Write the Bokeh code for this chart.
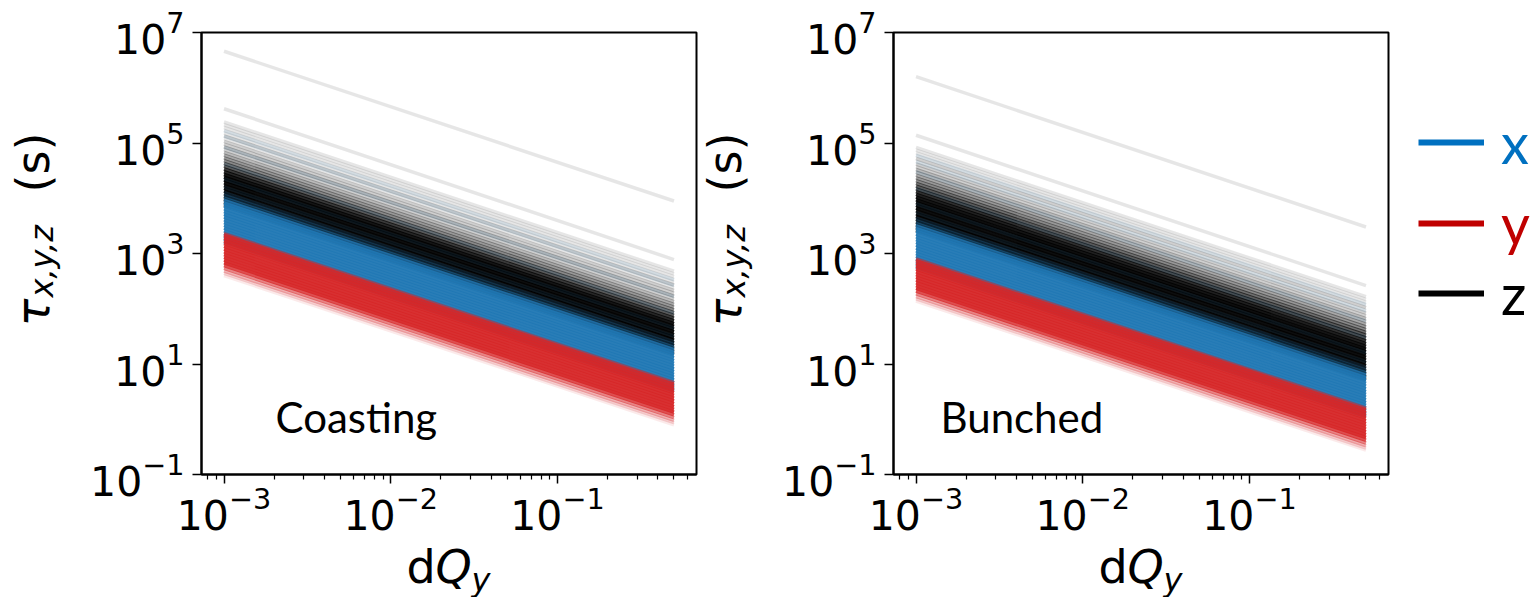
from bokeh.plotting import figure
from bokeh.layouts import row, column
from bokeh.models import (ColumnDataSource, Range1d, FixedTicker, Label,
                          Legend, LegendItem)
from bokeh.embed import file_html
from bokeh.resources import INLINE

# ---------------- data ----------------
# every line runs from dQ_y = 1e-3 to dQ_y = 0.5
DQ_ENDS = [1e-3, 0.5]

# log10(tau / s) at the two ends, and number of overlapping particle lines
# ---- Coasting ----
z_coast_start = [6.66, 5.62, 5.38, 5.33, 5.28, 5.23, 5.18, 5.13, 5.08, 5.03, 4.98,
                 4.93, 4.88, 4.83, 4.78, 4.73, 4.68, 4.63, 4.58, 4.53, 4.48, 4.43,
                 4.38, 4.33, 4.28, 4.23, 4.18, 4.13, 4.08, 4.03, 3.98, 3.93, 3.88]
z_coast_end = [3.95, 2.89, 2.68, 2.63, 2.58, 2.53, 2.48, 2.43, 2.38, 2.33, 2.28,
               2.23, 2.18, 2.13, 2.08, 2.03, 1.98, 1.93, 1.88, 1.83, 1.78, 1.73,
               1.68, 1.63, 1.58, 1.53, 1.48, 1.43, 1.38, 1.33, 1.28, 1.23, 1.18]
z_coast_count = [1, 1, 1, 1, 1, 1, 1, 2, 1, 2, 2, 3, 2, 3, 4, 5, 6, 8, 10, 14,
                 18, 24, 28, 28, 28, 28, 28, 28, 28, 28, 24, 18, 12]

x_coast_start = [5.22, 5.12, 4.92, 4.62, 4.35, 4.20, 4.10, 4.05, 4.00, 3.96, 3.91,
                 3.86, 3.81, 3.76, 3.71, 3.66, 3.61, 3.56, 3.51, 3.46, 3.41, 3.36,
                 3.31, 3.26, 3.21]
x_coast_end = [2.52, 2.42, 2.22, 1.92, 1.65, 1.50, 1.40, 1.35, 1.30, 1.26, 1.21,
               1.16, 1.11, 1.06, 1.01, 0.96, 0.91, 0.86, 0.81, 0.76, 0.71, 0.66,
               0.61, 0.56, 0.51]
x_coast_count = [1, 1, 1, 1, 1, 1, 2, 3, 6, 15, 30, 30, 30, 30, 30, 30, 30, 30,
                 30, 30, 30, 30, 30, 30, 20]

y_coast_start = [3.36, 3.33, 3.28, 3.23, 3.18, 3.13, 3.08, 3.03, 2.98, 2.93, 2.88,
                 2.83, 2.78, 2.73, 2.68, 2.64, 2.60]
y_coast_end = [0.66, 0.63, 0.58, 0.53, 0.48, 0.43, 0.38, 0.33, 0.28, 0.23, 0.18,
               0.13, 0.08, 0.03, -0.02, -0.06, -0.10]
y_coast_count = [8, 20, 30, 30, 30, 30, 30, 30, 30, 30, 30, 30, 16, 8, 4, 2, 1]

# ---- Bunched ----
z_bunch_start = [6.20, 5.14, 4.92, 4.87, 4.82, 4.77, 4.72, 4.67, 4.62, 4.57, 4.52,
                 4.47, 4.42, 4.37, 4.32, 4.27, 4.22, 4.17, 4.12, 4.07, 4.02, 3.97,
                 3.92, 3.87, 3.82, 3.77, 3.72, 3.67, 3.62, 3.57, 3.52, 3.47, 3.42]
z_bunch_end = [3.48, 2.42, 2.22, 2.17, 2.12, 2.07, 2.02, 1.97, 1.92, 1.87, 1.82,
               1.77, 1.72, 1.67, 1.62, 1.57, 1.52, 1.47, 1.42, 1.37, 1.32, 1.27,
               1.22, 1.17, 1.12, 1.07, 1.02, 0.97, 0.92, 0.87, 0.82, 0.77, 0.72]
z_bunch_count = [1, 1, 1, 1, 1, 1, 2, 1, 2, 2, 3, 3, 4, 5, 6, 8, 10, 12, 16, 20,
                 24, 28, 28, 28, 28, 28, 28, 28, 28, 28, 24, 18, 12]

x_bunch_start = [4.78, 4.66, 4.48, 4.18, 3.90, 3.74, 3.64, 3.59, 3.54, 3.50, 3.45,
                 3.40, 3.35, 3.30, 3.25, 3.20, 3.15, 3.10, 3.05, 3.00, 2.95, 2.90,
                 2.85, 2.80, 2.75]
x_bunch_end = [2.08, 1.96, 1.78, 1.48, 1.20, 1.04, 0.94, 0.89, 0.84, 0.80, 0.75,
               0.70, 0.65, 0.60, 0.55, 0.50, 0.45, 0.40, 0.35, 0.30, 0.25, 0.20,
               0.15, 0.10, 0.05]
x_bunch_count = [1, 1, 1, 1, 1, 1, 2, 3, 6, 15, 30, 30, 30, 30, 30, 30, 30, 30,
                 30, 30, 30, 30, 30, 30, 20]

y_bunch_start = [2.90, 2.87, 2.82, 2.77, 2.72, 2.67, 2.62, 2.57, 2.52, 2.47, 2.42,
                 2.37, 2.32, 2.27, 2.22, 2.18, 2.14]
y_bunch_end = [0.20, 0.17, 0.12, 0.07, 0.02, -0.03, -0.08, -0.13, -0.18, -0.23,
               -0.28, -0.33, -0.38, -0.43, -0.48, -0.52, -0.56]
y_bunch_count = [8, 20, 30, 30, 30, 30, 30, 30, 30, 30, 30, 30, 16, 8, 4, 2, 1]

PANEL_TITLES = ["Coasting", "Bunched"]
LEGEND_LABELS = ["x", "y", "z"]
X_TICKS = [1e-3, 1e-2, 1e-1]
Y_TICKS = [1e-1, 1e1, 1e3, 1e5, 1e7]

# ---------------- styles ----------------
SERIES_COLORS = {"x": "#1f77b4", "y": "#d62728", "z": "#000000"}
LEGEND_COLORS = {"x": "#0070c0", "y": "#c00000", "z": "#000000"}
LINE_ALPHA = 0.1
LINE_W = 3.5
TICK_FONT = "DejaVu Sans"
LABEL_FONT = "DejaVu Sans"
NOTE_FONT = "Lato"

X_MIN, X_MAX = 10 ** -3.135, 10 ** -0.166
Y_MIN, Y_MAX = 1e-1, 1e7

TOTAL_H = 597
TOP_B = 32
FRAME_H = 442
FRAME_W = 495
PANEL_BOTTOM_B = 65
XLAB_H = TOTAL_H - TOP_B - FRAME_H - PANEL_BOTTOM_B
SIDE_BOTTOM_B = TOTAL_H - TOP_B - FRAME_H


def add_series(p, starts, ends, counts, color):
    xs = [list(DQ_ENDS) for _ in starts]
    ys = [[10 ** s, 10 ** e] for s, e in zip(starts, ends)]
    alphas = [1 - (1 - LINE_ALPHA) ** n for n in counts]
    src = ColumnDataSource(dict(xs=xs, ys=ys, a=alphas))
    p.multi_line("xs", "ys", source=src, line_color=color, line_alpha="a",
                 line_width=LINE_W)


def blank_fig(width, height, **borders):
    f = figure(width=width, height=height, x_range=Range1d(0, 1),
               y_range=Range1d(0, 1), toolbar_location=None,
               output_backend="svg", x_axis_location=None,
               y_axis_location=None, outline_line_color=None,
               min_border_left=borders.get("left", 0),
               min_border_right=borders.get("right", 0),
               min_border_top=borders.get("top", 0),
               min_border_bottom=borders.get("bottom", 0))
    f.grid.visible = False
    return f


def make_panel(title, border_left, border_right, series, note_x):
    minor = [m * 10.0 ** e for e in (-4, -3, -2, -1) for m in range(2, 10)
             if X_MIN <= m * 10.0 ** e <= X_MAX]
    p = figure(frame_width=FRAME_W, frame_height=FRAME_H,
               x_axis_type="log", y_axis_type="log",
               x_range=Range1d(X_MIN, X_MAX), y_range=Range1d(Y_MIN, Y_MAX),
               output_backend="svg", toolbar_location=None,
               min_border_left=border_left, min_border_right=border_right,
               min_border_top=TOP_B, min_border_bottom=PANEL_BOTTOM_B)
    p.grid.visible = False
    p.outline_line_color = "black"
    p.outline_line_width = 2
    p.outline_line_alpha = 1

    p.xaxis.ticker = FixedTicker(ticks=X_TICKS, minor_ticks=minor)
    p.yaxis.ticker = FixedTicker(ticks=Y_TICKS, minor_ticks=[])
    for ax in (p.xaxis, p.yaxis):
        ax.axis_line_color = "black"
        ax.axis_line_width = 2
        ax.major_tick_line_color = "black"
        ax.major_tick_line_width = 1.5
        ax.minor_tick_line_color = "black"
        ax.minor_tick_line_width = 1.2
        ax.major_tick_in = 0
        ax.minor_tick_in = 0
        ax.major_tick_out = 9
        ax.minor_tick_out = 5
        ax.major_label_text_font = TICK_FONT
        ax.major_label_text_font_size = "41px"
        ax.major_label_text_color = "black"
    p.xaxis.major_label_standoff = 3
    p.yaxis.major_label_standoff = 8

    for starts, ends, counts, key in series:
        add_series(p, starts, ends, counts, SERIES_COLORS[key])

    p.add_layout(Label(x=note_x, y=58, x_units="screen", y_units="screen",
                       text=title, text_font=NOTE_FONT, text_font_size="42px",
                       text_color="black", text_baseline="alphabetic"))

    # x axis label dQ_y, in a strip below the panel with the same frame
    xl = blank_fig(border_left + FRAME_W + border_right, XLAB_H,
                   left=border_left, right=border_right)
    xl.add_layout(Label(x=205, y=31, x_units="screen", y_units="screen",
                        text="d", text_font=LABEL_FONT, text_font_size="46px",
                        text_color="black", text_baseline="alphabetic"))
    xl.add_layout(Label(x=234, y=31, x_units="screen", y_units="screen",
                        text="Q", text_font=LABEL_FONT, text_font_size="46px",
                        text_color="black", text_font_style="italic",
                        text_baseline="alphabetic"))
    xl.add_layout(Label(x=270, y=18, x_units="screen", y_units="screen",
                        text="y", text_font=LABEL_FONT, text_font_size="32px",
                        text_color="black", text_font_style="italic",
                        text_baseline="alphabetic"))
    return column(p, xl)


def make_ylabel(width, base_x):
    f = blank_fig(width, TOTAL_H, top=TOP_B, bottom=SIDE_BOTTOM_B)
    f.add_layout(Label(x=base_x, y=148, x_units="screen", y_units="screen",
                       text="τ", angle=90, angle_units="deg",
                       text_font=LABEL_FONT, text_font_size="46px",
                       text_color="black", text_font_style="italic",
                       text_baseline="alphabetic", text_align="left"))
    f.add_layout(Label(x=base_x + 9, y=177, x_units="screen", y_units="screen",
                       text="x,y,z", angle=90, angle_units="deg",
                       text_font=LABEL_FONT, text_font_size="32px",
                       text_color="black", text_font_style="italic",
                       text_baseline="alphabetic", text_align="left"))
    f.add_layout(Label(x=base_x, y=282, x_units="screen", y_units="screen",
                       text="(s)", angle=90, angle_units="deg",
                       text_font=LABEL_FONT, text_font_size="46px",
                       text_color="black", text_baseline="alphabetic",
                       text_align="left"))
    return f


ylab1 = make_ylabel(86, 32)
col1 = make_panel(PANEL_TITLES[0], 115, 2, [
    (z_coast_start, z_coast_end, z_coast_count, "z"),
    (x_coast_start, x_coast_end, x_coast_count, "x"),
    (y_coast_start, y_coast_end, y_coast_count, "y"),
], note_x=74)
ylab2 = make_ylabel(80, 26)
col2 = make_panel(PANEL_TITLES[1], 115, 5, [
    (z_bunch_start, z_bunch_end, z_bunch_count, "z"),
    (x_bunch_start, x_bunch_end, x_bunch_count, "x"),
    (y_bunch_start, y_bunch_end, y_bunch_count, "y"),
], note_x=47)

# legend panel (frame aligned with the plot frames)
p3 = blank_fig(138, TOTAL_H, top=TOP_B, bottom=SIDE_BOTTOM_B)
legend_bottoms = {"x": 297, "y": 216, "z": 146}
for lab in LEGEND_LABELS:
    r = p3.line(x=[float("nan")], y=[float("nan")],
                line_color=LEGEND_COLORS[lab], line_width=6)
    leg = Legend(items=[LegendItem(label=lab, renderers=[r], index=0)],
                 location=(25, legend_bottoms[lab]),
                 label_text_color=LEGEND_COLORS[lab], label_text_font=NOTE_FONT,
                 label_text_font_size="56px", glyph_width=66, glyph_height=70,
                 label_height=70, label_standoff=17, padding=0, margin=0,
                 spacing=0, border_line_alpha=0, background_fill_alpha=0)
    p3.add_layout(leg, "center")

layout = row(ylab1, col1, ylab2, col2, p3)
open("out.html", "w").write(file_html(layout, INLINE))
